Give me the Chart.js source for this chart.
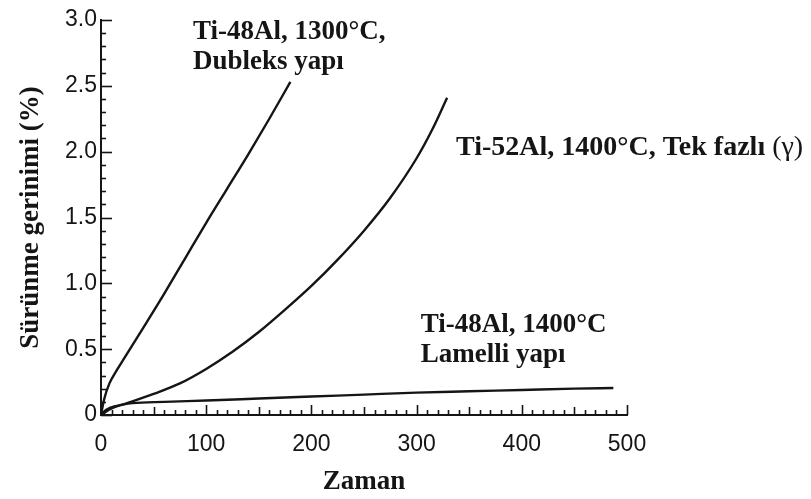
<!DOCTYPE html>
<html>
<head>
<meta charset="utf-8">
<script src="https://cdn.jsdelivr.net/npm/chart.js@4/dist/chart.umd.min.js"></script>
<style>
  html, body { margin: 0; padding: 0; background: #ffffff; }
  #wrap { width: 811px; height: 499px; }
</style>
</head>
<body>
<div id="wrap"><canvas id="c" width="811" height="499"></canvas></div>
<script>
// ---- data ----
const dubleksTime   = [0, 3, 8, 15, 22, 40, 60, 80, 100, 120, 140, 160, 180];
const dubleksStrain = [0, 0.12, 0.24, 0.34, 0.43, 0.66, 0.92, 1.19, 1.46, 1.72, 1.98, 2.25, 2.53];

const tekFazliTime   = [0, 10, 25, 50, 75, 100, 125, 150, 175, 200, 225, 250, 275, 300, 315, 329];
const tekFazliStrain = [0, 0.05, 0.09, 0.16, 0.24, 0.35, 0.48, 0.63, 0.80, 0.98, 1.18, 1.40, 1.65, 1.95, 2.17, 2.41];

const lamelliTime   = [0, 5, 15, 30, 60, 100, 150, 200, 250, 300, 350, 400, 450, 487];
const lamelliStrain = [0, 0.04, 0.07, 0.09, 0.10, 0.11, 0.125, 0.14, 0.155, 0.17, 0.18, 0.19, 0.20, 0.205];

const xTickLabels = ['0', '100', '200', '300', '400', '500'];
const yTickLabels = ['0', '0.5', '1.0', '1.5', '2.0', '2.5', '3.0'];

const xTitle = 'Zaman';
const yTitle = 'Sürünme gerinimi (%)';

// annotation texts, anchored in data units (left edge, first baseline)
const notes = [
  { lines: [['Ti-48Al, 1300°C,', true], null, ['Dubleks yapı', true]], x: 87.5, y: 2.855, size: 27 },
  { lines: [['Ti-52Al, 1400°C, Tek fazlı ', true], ['(γ)', false]], x: 337.5, y: 1.974, inline: true, size: 28 },
  { lines: [['Ti-48Al, 1400°C', true], null, ['Lamelli yapı', true]], x: 304, y: 0.63, size: 27 }
];

function pts(xs, ys) { return xs.map((x, i) => ({ x: x, y: ys[i] })); }

const ink = '#151515';
const serif = '"Liberation Serif", "Times New Roman", serif';
const sans = '"Liberation Sans", Arial, sans-serif';

const inwardTicks = {
  id: 'inwardTicks',
  afterDraw(chart) {
    const ctx = chart.ctx;
    const xs = chart.scales.x, ys = chart.scales.y;
    ctx.save();
    ctx.strokeStyle = ink;
    ctx.lineWidth = 1.6;
    // y ticks (every 0.1, major every 0.5)
    for (let i = 0; i <= 30; i++) {
      const v = i / 10;
      const py = Math.round(ys.getPixelForValue(v)) + 0.5;
      const len = (i % 5 === 0) ? 11 : 5;
      ctx.beginPath();
      ctx.moveTo(xs.left, py);
      ctx.lineTo(xs.left + len, py);
      ctx.stroke();
    }
    // x ticks (every 10, mid every 50, major every 100)
    for (let i = 0; i <= 50; i++) {
      const v = i * 10;
      const px = Math.round(xs.getPixelForValue(v)) + 0.5;
      const len = (i % 10 === 0) ? 10 : ((i % 5 === 0) ? 8 : 5);
      ctx.beginPath();
      ctx.moveTo(px, ys.bottom);
      ctx.lineTo(px, ys.bottom - len);
      ctx.stroke();
    }
    ctx.restore();
  }
};

const annotations = {
  id: 'annotations',
  afterDraw(chart) {
    const ctx = chart.ctx;
    const xs = chart.scales.x, ys = chart.scales.y;
    ctx.save();
    ctx.fillStyle = ink;
    ctx.textBaseline = 'alphabetic';
    ctx.textAlign = 'left';
    notes.forEach(n => {
      const size = n.size;
      const px = xs.getPixelForValue(n.x);
      let py = ys.getPixelForValue(n.y);
      if (n.inline) {
        let cx = px;
        n.lines.forEach(seg => {
          ctx.font = (seg[1] ? 'bold ' : '') + size + 'px ' + serif;
          ctx.fillText(seg[0], cx, py);
          cx += ctx.measureText(seg[0]).width;
        });
      } else {
        n.lines.forEach(seg => {
          if (seg === null) { py += 30; return; }
          ctx.font = (seg[1] ? 'bold ' : '') + size + 'px ' + serif;
          ctx.fillText(seg[0], px, py);
        });
      }
    });
    ctx.restore();
  }
};

const lineStyle = {
  borderColor: ink,
  borderWidth: 2.4,
  pointRadius: 0,
  fill: false,
  cubicInterpolationMode: 'monotone',
  showLine: true
};

new Chart(document.getElementById('c'), {
  type: 'scatter',
  data: {
    datasets: [
      Object.assign({ label: 'Ti-48Al, 1300°C, Dubleks yapı', data: pts(dubleksTime, dubleksStrain) }, lineStyle),
      Object.assign({ label: 'Ti-52Al, 1400°C, Tek fazlı (γ)', data: pts(tekFazliTime, tekFazliStrain) }, lineStyle),
      Object.assign({ label: 'Ti-48Al, 1400°C, Lamelli yapı', data: pts(lamelliTime, lamelliStrain) }, lineStyle)
    ]
  },
  options: {
    responsive: false,
    animation: false,
    layout: { padding: { left: 0, top: 20, right: 184, bottom: 0 } },
    plugins: { legend: { display: false }, tooltip: { enabled: false } },
    scales: {
      x: {
        type: 'linear', min: 0, max: 500,
        afterFit(s) { s.height = 84; },
        afterBuildTicks(s) { s.ticks = xTickLabels.map(t => ({ value: Number(t) })); },
        ticks: {
          callback: (v, i) => xTickLabels[i],
          color: ink, padding: 16,
          font: { family: sans, size: 23 }
        },
        grid: { drawOnChartArea: false, drawTicks: false },
        border: { display: true, color: ink, width: 2 },
        title: {
          display: true, text: xTitle, color: ink,
          font: { family: serif, size: 27, weight: 'bold' },
          padding: { top: 0, bottom: 1 }
        }
      },
      y: {
        type: 'linear', min: 0, max: 3,
        afterFit(s) { s.width = 101; },
        afterBuildTicks(s) { s.ticks = yTickLabels.map(t => ({ value: Number(t) })); },
        ticks: {
          callback: (v, i) => yTickLabels[i],
          color: ink, padding: 4,
          font: { family: sans, size: 23 }
        },
        grid: { drawOnChartArea: false, drawTicks: false },
        border: { display: true, color: ink, width: 2 },
        title: {
          display: true, text: yTitle, color: ink,
          font: { family: serif, size: 27, weight: 'bold' },
          padding: { top: 15, bottom: 0 }
        }
      }
    }
  },
  plugins: [inwardTicks, annotations]
});
</script>
</body>
</html>
